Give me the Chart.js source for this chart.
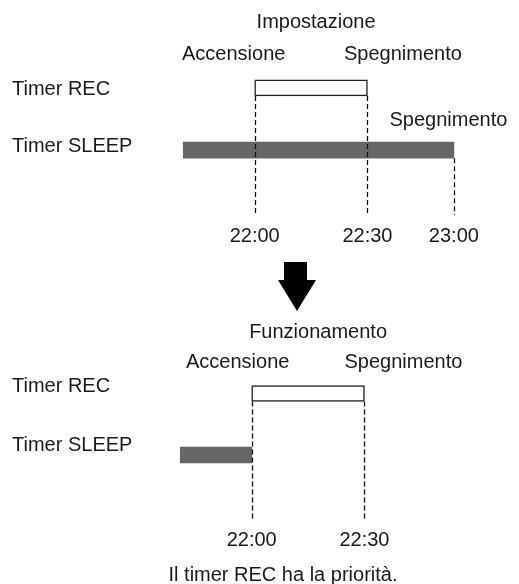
<!DOCTYPE html>
<html>
<head>
<meta charset="utf-8">
<title>Timer REC / Timer SLEEP</title>
<script src="https://cdn.jsdelivr.net/npm/chart.js@4.4.1/dist/chart.umd.min.js"></script>
<style>
  html, body { margin: 0; padding: 0; background: #fff; }
  body { width: 519px; height: 584px; position: relative; overflow: hidden; }
  canvas { position: absolute; }
  #setupChart { left: 0; top: 0; }
  #runChart { left: -3px; top: 315px; }
</style>
</head>
<body>
<canvas id="setupChart" width="519" height="315"></canvas>
<canvas id="runChart" width="519" height="269"></canvas>
<script>
// rows of both diagrams
const rowLabels = ["Timer REC", "Timer SLEEP"];

// time axis in minutes after 22:00, as drawn (the picture is not to scale after 22:30)
const setupTickValues = [0, 30, 53];
const setupTickLabels = ["22:00", "22:30", "23:00"];
const runTickValues = [0, 30];
const runTickLabels = ["22:00", "22:30"];

// setting: REC from 22:00 to 22:30, SLEEP goes on until 23:00
const setupRec = [0, 30];
const setupSleep = [-19, 53];
const setupTexts = ["Impostazione", "Accensione", "Spegnimento", "Spegnimento"];

// operation: REC wins, SLEEP stops at 22:00
const runRec = [0, 30];
const runSleep = [-19, 0];
const runTexts = ["Funzionamento", "Accensione", "Spegnimento"];

const caption = "Il timer REC ha la priorità.";

const FONT = "'Liberation Sans', Arial, Helvetica, sans-serif";
const TEXT_COLOR = "#1a1a1a";

Chart.defaults.font.family = FONT;
Chart.defaults.font.size = 20;
Chart.defaults.color = TEXT_COLOR;

// dashed drop lines, row names, notes around the bars, arrow and caption
const diagramPlugin = {
  id: "diagram",
  afterDatasetsDraw(chart, args, opts) {
    const ctx = chart.ctx;
    const xScale = chart.scales.x;
    const meta = chart.getDatasetMeta(0);
    const bars = chart.data.datasets[0].data;
    const bottom = chart.chartArea.bottom + opts.dropExtra;

    ctx.save();
    ctx.strokeStyle = "#111";
    ctx.lineWidth = 1.3;
    ctx.setLineDash([5, 3]);
    opts.tickValues.forEach(v => {
      // start under the first bar that has an edge at this time
      const row = bars.findIndex(b => b[0] === v || b[1] === v);
      if (row < 0) return;
      const el = meta.data[row];
      const x = Math.round(xScale.getPixelForValue(v)) + 0.5;
      ctx.beginPath();
      ctx.moveTo(x, el.y + el.height / 2);
      ctx.lineTo(x, bottom);
      ctx.stroke();
    });
    ctx.restore();

    ctx.save();
    ctx.fillStyle = TEXT_COLOR;
    ctx.font = "20px " + FONT;
    ctx.textBaseline = "alphabetic";

    // row names sit a little above their bars in the drawing
    ctx.textAlign = "left";
    chart.data.labels.forEach((name, i) => {
      ctx.fillText(name, opts.rowX, opts.rowBaselines[i]);
    });

    ctx.textAlign = "center";
    opts.notes.forEach(n => {
      const b = bars[n.row];
      const start = xScale.getPixelForValue(b[0]);
      const end = xScale.getPixelForValue(b[1]);
      const x = n.at === "start" ? start : n.at === "end" ? end : (start + end) / 2;
      ctx.fillText(n.text, x + n.dx, n.y);
    });
    if (opts.caption) {
      ctx.fillText(opts.caption.text, opts.caption.x, opts.caption.y);
    }
    if (opts.arrow) {
      const a = opts.arrow;
      ctx.fillStyle = "#000";
      ctx.fillRect(a.shaftLeft, a.top, a.shaftRight - a.shaftLeft, a.headTop - a.top);
      ctx.beginPath();
      ctx.moveTo(a.headLeft, a.headTop);
      ctx.lineTo(a.headRight, a.headTop);
      ctx.lineTo(a.tipX, a.tipY);
      ctx.closePath();
      ctx.fill();
    }
    ctx.restore();
  }
};

function makePanel(canvasId, recRange, sleepRange, tickValues, tickLabels, layoutPadding, extras) {
  const ctx = document.getElementById(canvasId);
  return new Chart(ctx, {
    type: "bar",
    data: {
      labels: rowLabels,
      datasets: [{
        data: [recRange, sleepRange],
        backgroundColor: ["#ffffff", "#666666"],
        borderColor: ["#222222", "#666666"],
        borderWidth: [1.5, 0],
        borderSkipped: false,
        barThickness: 16
      }]
    },
    options: {
      indexAxis: "y",
      responsive: false,
      animation: false,
      devicePixelRatio: 1,
      layout: { padding: layoutPadding },
      plugins: {
        legend: { display: false },
        tooltip: { enabled: false },
        diagram: Object.assign({ tickValues: tickValues, dropExtra: 34 }, extras)
      },
      scales: {
        x: {
          type: "linear",
          min: -22,
          max: 65,
          grid: { display: false, drawTicks: false },
          border: { display: false },
          afterBuildTicks: scale => {
            scale.ticks = tickValues.map(v => ({ value: v }));
          },
          afterFit: scale => {
            scale.height = 80;
            // labels stay well inside, no extra room needed at the sides
            scale.paddingLeft = 0;
            scale.paddingRight = 0;
          },
          ticks: {
            padding: 43,
            autoSkip: false,
            maxRotation: 0,
            callback: v => tickLabels[tickValues.indexOf(v)]
          }
        },
        y: {
          type: "category",
          grid: { display: false, drawTicks: false },
          border: { display: false },
          afterFit: scale => { scale.width = 160; },
          ticks: { display: false }
        }
      }
    },
    plugins: [diagramPlugin]
  });
}

makePanel("setupChart", setupRec, setupSleep, setupTickValues, setupTickLabels,
  { left: 12, right: 20, top: 56.75, bottom: 53.75 }, {
    rowX: 12,
    rowBaselines: [95, 152],
    notes: [
      { row: 0, at: "mid", dx: 5, y: 28, text: setupTexts[0] },
      { row: 0, at: "start", dx: -21, y: 60, text: setupTexts[1] },
      { row: 0, at: "end", dx: 35.5, y: 60, text: setupTexts[2] },
      { row: 1, at: "end", dx: -5.5, y: 126, text: setupTexts[3] }
    ],
    arrow: { shaftLeft: 284, shaftRight: 307, top: 262, headTop: 280,
             headLeft: 278, headRight: 316, tipX: 297, tipY: 311 }
  });

// this canvas sits 3px further left, so the row names move back by 3px
makePanel("runChart", runRec, runSleep, runTickValues, runTickLabels,
  { left: 12, right: 20, top: 47.75, bottom: 18.25 }, {
    rowX: 15,
    rowBaselines: [77, 136],
    notes: [
      { row: 0, at: "mid", dx: 10, y: 23, text: runTexts[0] },
      { row: 0, at: "start", dx: -14, y: 53, text: runTexts[1] },
      { row: 0, at: "end", dx: 39, y: 53, text: runTexts[2] }
    ],
    caption: { text: caption, x: 286, y: 266 }
  });
</script>
</body>
</html>
